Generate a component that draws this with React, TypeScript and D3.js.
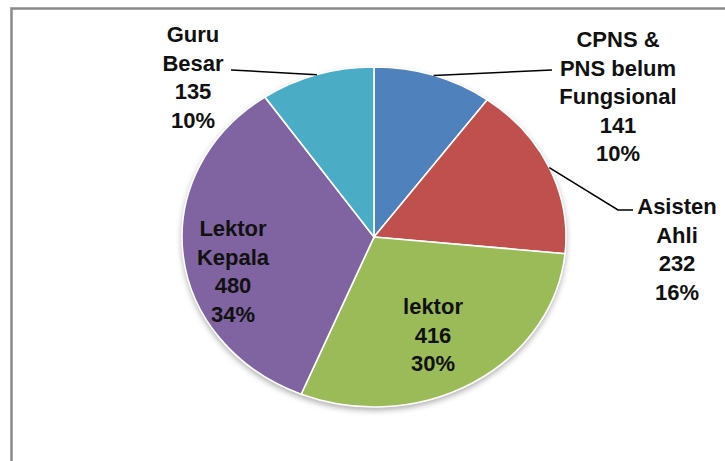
import React, { useEffect, useRef } from 'react';
import * as d3 from 'd3';

// slice data, clockwise from 12 o'clock
const categories = ['CPNS & PNS belum Fungsional', 'Asisten Ahli', 'lektor', 'Lektor Kepala', 'Guru Besar'];
const values = [141, 232, 416, 480, 135];
const percents = ['10%', '16%', '30%', '34%', '10%'];
const colors = ['#4F81BD', '#C0504D', '#9BBB59', '#8064A2', '#4BACC6'];
// how each label is broken into lines
const labelLines = [
  ['CPNS &', 'PNS belum', 'Fungsional'],
  ['Asisten', 'Ahli'],
  ['lektor'],
  ['Lektor', 'Kepala'],
  ['Guru', 'Besar'],
];

export default function App() {
  const ref = useRef<SVGSVGElement>(null);

  useEffect(() => {
    const width = 725;
    const height = 461;
    const cx = 374;
    const cy = 237;
    const ry = 170;
    const sx = 192 / 170; // the pie is drawn slightly stretched

    const svg = d3.select(ref.current);
    svg.html('');
    svg.attr('width', width).attr('height', height);

    // frame
    svg.append('rect')
      .attr('x', 11.5).attr('y', 8.5)
      .attr('width', 800).attr('height', 600)
      .attr('fill', '#fff')
      .attr('stroke', '#8a8a8a')
      .attr('stroke-width', 2.5);

    const defs = svg.append('defs');
    const f = defs.append('filter').attr('id', 'shadow')
      .attr('x', '-10%').attr('y', '-10%').attr('width', '120%').attr('height', '125%');
    f.append('feDropShadow')
      .attr('dx', 0).attr('dy', 3).attr('stdDeviation', 3)
      .attr('flood-color', '#000').attr('flood-opacity', 0.35);

    const pie = d3.pie<number>().sort(null).value(d => d);
    const arcs = pie(values);
    const arc = d3.arc<d3.PieArcDatum<number>>().innerRadius(0).outerRadius(ry);

    const g = svg.append('g').attr('transform', `translate(${cx},${cy}) scale(${sx},1)`);

    g.append('ellipse')
      .attr('rx', ry).attr('ry', ry)
      .attr('fill', '#fff')
      .attr('filter', 'url(#shadow)');

    g.selectAll('path.slice')
      .data(arcs)
      .enter()
      .append('path')
      .attr('class', 'slice')
      .attr('d', arc)
      .attr('fill', (d, i) => colors[i])
      .attr('stroke', '#fff')
      .attr('stroke-width', 1.6)
      .attr('vector-effect', 'non-scaling-stroke');

    // point on the rim at the middle of a slice, in page coordinates
    const rim = (d: d3.PieArcDatum<number>) => {
      const a = (d.startAngle + d.endAngle) / 2;
      return [cx + Math.sin(a) * ry * sx, cy - Math.cos(a) * ry];
    };

    // label anchors (centre x, first baseline) and leader line elbows
    const labelPos = [
      { x: 618, y: 47 },
      { x: 677, y: 214 },
      { x: 433, y: 314 },
      { x: 233, y: 236 },
      { x: 193, y: 42 },
    ];
    const leaders: (number[][] | null)[] = [
      [[552, 70]],
      [[618, 210], [633, 210]],
      null,
      null,
      [[231, 70]],
    ];

    arcs.forEach((d, i) => {
      const pts = leaders[i];
      if (!pts) return;
      const path = d3.line()([rim(d) as [number, number], ...(pts as [number, number][])]);
      svg.append('path')
        .attr('d', path)
        .attr('fill', 'none')
        .attr('stroke', '#000')
        .attr('stroke-width', 1.5);
    });

    const lh = 28.6;
    arcs.forEach((d, i) => {
      const lines = [...labelLines[i], String(values[i]), percents[i]];
      const t = svg.append('text')
        .attr('text-anchor', 'middle')
        .attr('font-family', 'Liberation Sans, Arial, sans-serif')
        .attr('font-weight', 'bold')
        .attr('font-size', 22)
        .attr('fill', '#111');
      lines.forEach((s, k) => {
        t.append('tspan')
          .attr('x', labelPos[i].x)
          .attr('y', labelPos[i].y + k * lh)
          .text(s);
      });
    });
  }, []);

  return (
    <div style={{ position: 'absolute', left: 0, top: 0 }}>
      <svg ref={ref} style={{ display: 'block' }}></svg>
    </div>
  );
}
